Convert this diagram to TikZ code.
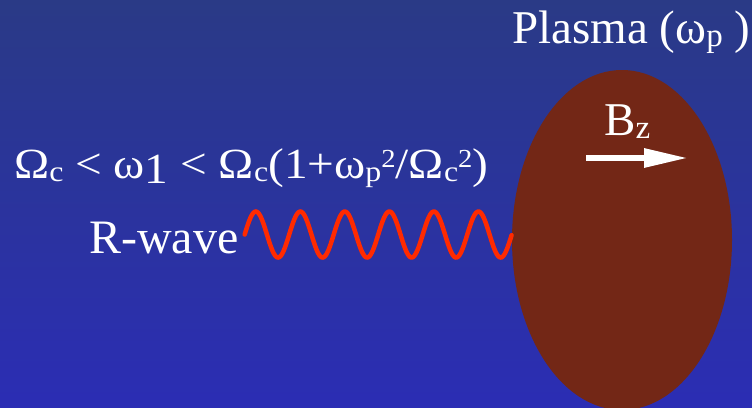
\documentclass[tikz,border=0pt]{standalone}
\usepackage{fontspec,graphicx}
\setmainfont{Liberation Serif}
\newfontfamily\timesface{Liberation Serif}
\usetikzlibrary{shapes.geometric,arrows.meta,positioning,calc}
\definecolor{skytop}{HTML}{2A3A86}
\definecolor{skybot}{HTML}{2B2DB4}
\definecolor{blob}{HTML}{732716}
\definecolor{wavered}{HTML}{FF2A00}
\newcommand\lo[2][29]{\raisebox{-3pt}{\fontsize{#1}{#1}\selectfont #2}}
\newcommand\hi[1]{\raisebox{11pt}{\fontsize{26}{26}\selectfont #1}}

\begin{document}
\begin{tikzpicture}[x=1pt,y=-1pt,
  lbl/.style={text=white,inner sep=0pt,anchor=base west,font=\timesface\fontsize{47}{56}\selectfont},
  eqn/.style={lbl,font=\timesface\fontsize{43}{50}\selectfont},
  wave/.style={draw=wavered,line width=4.5pt,line cap=round}]
\useasboundingbox (0,0) rectangle (752,407);
\shade[top color=skytop,bottom color=skybot] (0,0) rectangle (752,407);
\node[ellipse,fill=blob,minimum width=220,minimum height=340,inner sep=0pt] (plasma) at (622,240) {};
\node[lbl] (name) at (512,43) {Plasma (ω\lo[33]{p} )};
\node[lbl] (bz) at (604,135) {B\lo[33]{z}};
\coordinate (b0) at (586,158);
\coordinate (b1) at (688,158);
\draw[white,line width=6pt,-{Triangle[length=44pt,width=18pt]}] (b0) -- (b1);
\node[eqn] (cond) at (14,178) {\scalebox{1.1}[1]{Ω\lo{c} < ω\raisebox{-5pt}{1} < Ω\lo{c}(1+ω\lo{p}\hi{2}/Ω\lo{c}\hi{2})}};
\node[lbl,font=\timesface\fontsize{48}{56}\selectfont] (rwave) at (89,253) {R-wave};
\coordinate (w0) at ([xshift=6pt,yshift=3pt]rwave.east);
\coordinate (w1) at (plasma.west |- w0);
\draw[wave] let \p1=(w0), \p2=(w1) in
  plot[variable=\t,domain=0:1,samples=240,smooth] ({\x1+\t*(\x2-\x1)},{\y1+23*sin(6*360*\t)});
\end{tikzpicture}
\end{document}
